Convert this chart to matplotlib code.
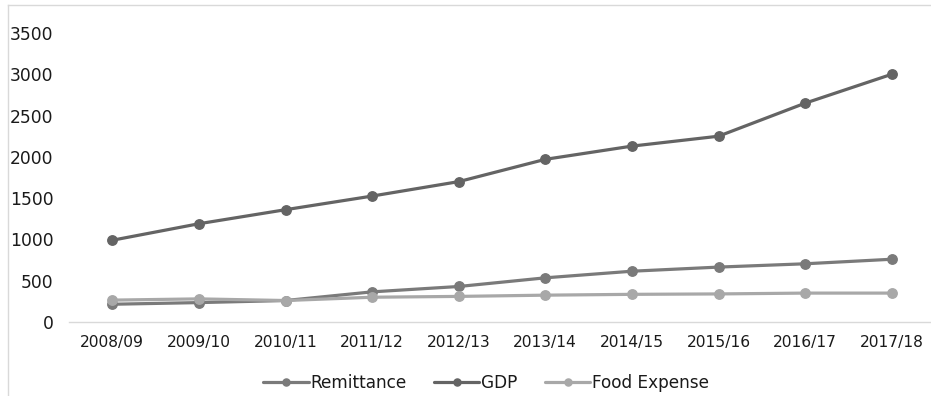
import matplotlib.pyplot as plt
from matplotlib.lines import Line2D

years = ["2008/09", "2009/10", "2010/11", "2011/12", "2012/13",
         "2013/14", "2014/15", "2015/16", "2016/17", "2017/18"]
remittance = [215, 235, 260, 365, 430, 535, 615, 665, 705, 760]
gdp = [990, 1190, 1360, 1525, 1700, 1970, 2130, 2250, 2650, 3000]
food_expense = [265, 280, 260, 300, 310, 325, 335, 340, 350, 350]
y_ticks = [0, 500, 1000, 1500, 2000, 2500, 3000, 3500]

plt.rcParams['font.family'] = ['DejaVu Sans']

fig = plt.figure(figsize=(9.31, 3.96), dpi=100)
ax = fig.add_axes([69 / 931, 1 - 322 / 396, (935 - 69) / 931, (322 - 33) / 396])

x = list(range(len(years)))
style = dict(linewidth=2.3, marker='o', markersize=6.8, solid_capstyle='round')
ax.plot(x, remittance, color='#7a7a7a', label='Remittance', **style)
ax.plot(x, gdp, color='#646464', label='GDP', **style)
ax.plot(x, food_expense, color='#a8a8a8', label='Food Expense', **style)

ax.set_xlim(-0.5, len(years) - 0.5)
ax.set_ylim(0, 3500)
ax.set_yticks(y_ticks)
ax.set_yticklabels([str(v) for v in y_ticks], fontsize=12.3, color='#1a1a1a')
ax.set_xticks(x)
ax.set_xticklabels(years, fontsize=11.2, color='#1a1a1a')
ax.tick_params(axis='both', length=0)
ax.tick_params(axis='y', pad=11)
ax.tick_params(axis='x', pad=9)

for side in ('top', 'right', 'left'):
    ax.spines[side].set_visible(False)
ax.spines['bottom'].set_color('#d9d9d9')
ax.spines['bottom'].set_linewidth(1.0)

# chart-area frame along the left and top edges
fig.add_artist(Line2D([7.5 / 931, 7.5 / 931], [0, 1 - 5 / 396], transform=fig.transFigure,
                      color='#d9d9d9', linewidth=1.0))
fig.add_artist(Line2D([7.5 / 931, 1], [1 - 5 / 396, 1 - 5 / 396], transform=fig.transFigure,
                      color='#d9d9d9', linewidth=1.0))

fig.legend(loc='center', bbox_to_anchor=(486 / 931, 1 - 383 / 396), ncol=3,
           frameon=False, fontsize=12.2, handlelength=2.7, handletextpad=0.1,
           columnspacing=1.6, markerscale=0.75, labelcolor='#1a1a1a')

fig.savefig('out.png', dpi=100)
